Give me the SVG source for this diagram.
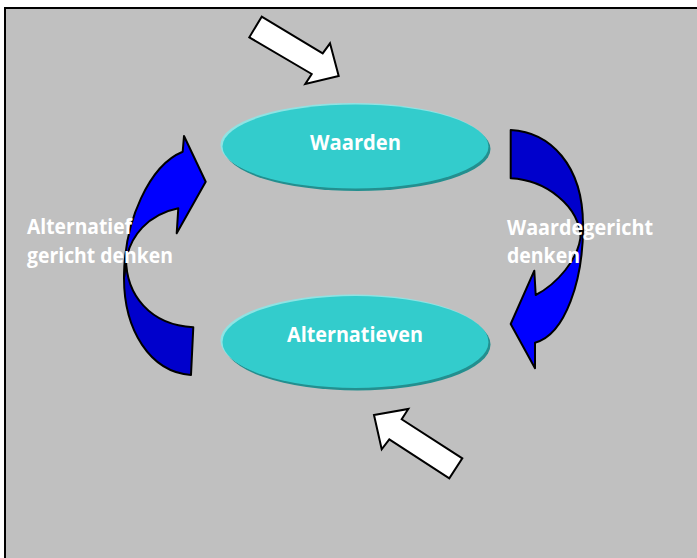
<svg xmlns="http://www.w3.org/2000/svg" width="697" height="558" viewBox="0 0 697 558">
<style>
.lbl{font-family:"Open Sans","Liberation Sans",sans-serif;font-weight:700;font-size:22px;fill:#FFFFFF}
.blue-l{fill:#0000FF;stroke:#000;stroke-width:2;stroke-linejoin:round}
.blue-d{fill:#0000CC;stroke:#000;stroke-width:2;stroke-linejoin:round}
.white{fill:#FFFFFF;stroke:#000;stroke-width:2;stroke-linejoin:miter}
.sh{fill:#238F8F}
.hl{fill:#8FE3E3}
.main{fill:#33CCCC}
</style>
<rect x="0" y="0" width="697" height="558" fill="#FFFFFF"/>
<rect x="5" y="8" width="700" height="560" fill="#C0C0C0" stroke="#000" stroke-width="2"/>

<g id="connectors">
  <!-- top white arrow -->
  <polygon class="white" points="261.7,16.7 249.3,37.3 311.7,74 305.3,84 338.7,76 330,43.3 322.7,53.3"/>
  <!-- bottom white arrow -->
  <polygon class="white" points="374,415 408.3,409 401.7,419.3 462.3,458.3 449.3,478.3 389.3,439.3 381.7,449.3"/>
  <!-- left curved arrow -->
  <path class="blue-d" d="M191,375 C150,372 124,330 124,278 L126,258 C126,295 150,325 193.3,327.3 Z"/>
  <path class="blue-l" d="M124,278 C124,220 150,165 182.7,151.7 L184,136 L205.7,181.7 L176.7,233.3 L178.3,208.3 C150,214 128,235 125.5,266 Z"/>
  <!-- right curved arrow -->
  <path class="blue-d" d="M510.7,130 C550,132 583,165 583,225 L581,240 C580,205 545,180 510.7,178.3 Z"/>
  <path class="blue-l" d="M583,222 C584,280 565,335 535,342.7 L535,368.3 L510.7,324 L534.3,270.7 L535.7,295 C555,285 580,260 581,232 Z"/>
</g>

<g id="waarden">
  <ellipse class="sh" cx="357.5" cy="149" rx="133" ry="42"/>
  <ellipse class="hl" cx="353.5" cy="145" rx="133" ry="42"/>
  <ellipse class="main" cx="355.5" cy="146.5" rx="133" ry="42"/>
  <text class="lbl" x="355.5" y="150" text-anchor="middle" textLength="91" lengthAdjust="spacingAndGlyphs">Waarden</text>
</g>

<g id="alternatieven">
  <ellipse class="sh" cx="357.5" cy="344.5" rx="133" ry="46"/>
  <ellipse class="hl" cx="353.5" cy="340.5" rx="133" ry="46"/>
  <ellipse class="main" cx="355.5" cy="342" rx="133" ry="46"/>
  <text class="lbl" x="355" y="341.7" text-anchor="middle" textLength="136" lengthAdjust="spacingAndGlyphs">Alternatieven</text>
</g>

<g id="labels">
  <text class="lbl" x="27" y="234" textLength="105" lengthAdjust="spacingAndGlyphs">Alternatief</text>
  <text class="lbl" x="27" y="263" textLength="146" lengthAdjust="spacingAndGlyphs">gericht denken</text>
  <text class="lbl" x="507" y="235" textLength="146" lengthAdjust="spacingAndGlyphs">Waardegericht</text>
  <text class="lbl" x="507" y="263" textLength="73" lengthAdjust="spacingAndGlyphs">denken</text>
</g>
</svg>
